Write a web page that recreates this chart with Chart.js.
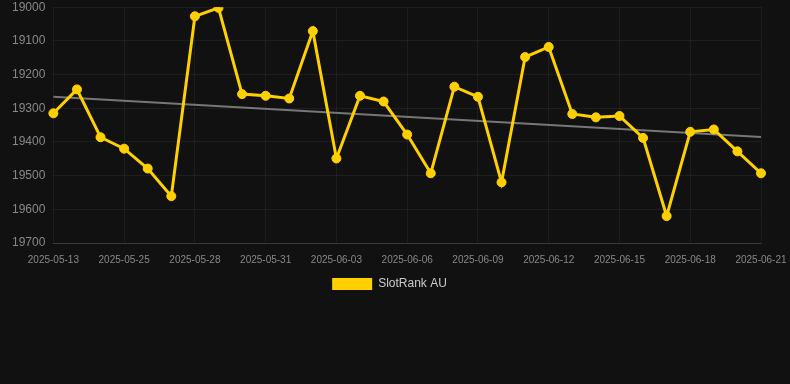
<!DOCTYPE html>
<html>
<head>
<meta charset="utf-8">
<script src="https://cdn.jsdelivr.net/npm/chart.js@4"></script>
<style>
  html, body { margin: 0; padding: 0; background: #111111; overflow: hidden; }
  #wrap { position: relative; width: 790px; height: 315px; margin-top: -8px; }
</style>
</head>
<body>
<div id="wrap"><canvas id="c"></canvas></div>
<script>
const categories = [
  "2025-05-13", "2025-05-23", "2025-05-24", "2025-05-25", "2025-05-26", "2025-05-27",
  "2025-05-28", "2025-05-29", "2025-05-30", "2025-05-31", "2025-06-01", "2025-06-02",
  "2025-06-03", "2025-06-04", "2025-06-05", "2025-06-06", "2025-06-07", "2025-06-08",
  "2025-06-09", "2025-06-10", "2025-06-11", "2025-06-12", "2025-06-13", "2025-06-14",
  "2025-06-15", "2025-06-16", "2025-06-17", "2025-06-18", "2025-06-19", "2025-06-20",
  "2025-06-21"
];
const rankValues = [
  19315, 19244, 19386, 19420, 19479, 19561,
  19027, 19002, 19258, 19263, 19271, 19071,
  19449, 19263, 19280, 19378, 19493, 19236,
  19266, 19520, 19148, 19118, 19317, 19327,
  19323, 19388, 19620, 19370, 19363, 19428,
  19493
];
const trendStart = 19266;
const trendEnd = 19385;
const trendValues = categories.map((_, i) => i === 0 ? trendStart : (i === categories.length - 1 ? trendEnd : null));
const yTicks = [19000, 19100, 19200, 19300, 19400, 19500, 19600, 19700];

const legendNudge = {
  id: 'legendNudge',
  afterLayout(chart) {
    if (chart.legend) { chart.legend.top -= 3; chart.legend.bottom -= 3; }
  }
};

new Chart(document.getElementById('c'), {
  type: 'line',
  plugins: [legendNudge],
  data: {
    labels: categories,
    datasets: [
      {
        label: 'SlotRank AU',
        data: rankValues,
        borderColor: '#FFD000',
        backgroundColor: '#FFD000',
        borderWidth: 3,
        pointRadius: 4.5,
        pointHoverRadius: 4.5,
        pointBorderWidth: 1,
        pointBackgroundColor: '#FFD000',
        pointBorderColor: '#FFD000',
        tension: 0,
        order: 1
      },
      {
        label: 'trend',
        data: trendValues,
        borderColor: '#777777',
        borderWidth: 2,
        pointRadius: 0,
        spanGaps: true,
        fill: false,
        order: 2
      }
    ]
  },
  options: {
    responsive: true,
    maintainAspectRatio: false,
    animation: false,
    layout: { padding: { left: 4, right: 15, top: 0, bottom: 4 } },
    plugins: {
      legend: {
        position: 'bottom',
        labels: {
          color: '#cccccc',
          boxWidth: 40,
          boxHeight: 12,
          padding: 4,
          font: { family: 'Liberation Sans, Arial, sans-serif', size: 12 },
          filter: (item) => item.text !== 'trend',
          generateLabels: (chart) => {
            const items = Chart.defaults.plugins.legend.labels.generateLabels(chart);
            items.forEach(it => { it.lineWidth = 0; it.strokeStyle = 'rgba(0,0,0,0)'; });
            return items;
          }
        }
      },
      tooltip: { enabled: false }
    },
    scales: {
      x: {
        offset: false,
        afterFit: (s) => { s.paddingRight = 29; },
        grid: { color: 'rgba(255,255,255,0.05)', drawTicks: false },
        border: { color: 'rgba(255,255,255,0.12)' },
        ticks: {
          color: '#888888',
          font: { family: 'Liberation Sans, Arial, sans-serif', size: 10 },
          maxRotation: 0,
          autoSkip: false,
          padding: 11,
          callback: function(val, idx) { return idx % 3 === 0 ? categories[idx] : null; }
        }
      },
      y: {
        reverse: true,
        min: 19000,
        max: 19700,
        afterBuildTicks: (axis) => { axis.ticks = yTicks.map(v => ({ value: v })); },
        grid: { color: 'rgba(255,255,255,0.05)', drawTicks: false },
        border: { display: false },
        ticks: {
          color: '#888888',
          font: { family: 'Liberation Sans, Arial, sans-serif', size: 12 },
          padding: 8,
          callback: (v) => String(v)
        }
      }
    }
  }
});
</script>
</body>
</html>
